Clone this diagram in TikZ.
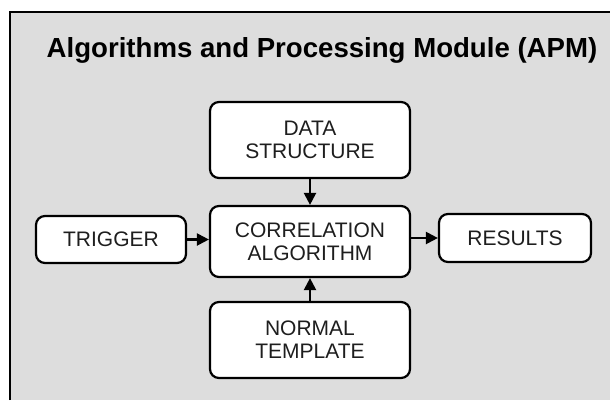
\documentclass[tikz,border=0pt]{standalone}
\usepackage{fontspec}
\setmainfont{Liberation Sans}
\usetikzlibrary{arrows.meta,positioning}
\definecolor{apmGray}{HTML}{DDDDDD}
\definecolor{apmText}{HTML}{1E1E1E}
\tikzset{
  blk/.style={draw=black, line width=2.2pt, rounded corners=9pt, fill=white,
              align=center, text=apmText, font=\fontsize{21}{23}\selectfont,
              inner sep=0pt, minimum width=#1},
  blk/.default=200pt,
  arr/.style={-{Triangle[length=12pt,width=12pt]}, line width=2.2pt},
}

\begin{document}
\begin{tikzpicture}[x=1pt,y=-1pt]
  \useasboundingbox (0,0) rectangle (610,400);
  % module frame
  \fill[apmGray] (10,12) rectangle (610,400);
  \draw[line width=2.4pt] (10,400) -- (10,12) -- (610,12);
  \node[font=\fontsize{27.6}{30}\selectfont\bfseries, anchor=base] (title) at (322,57)
    {Algorithms and Processing Module (APM)};
  % blocks
  \node[blk, minimum height=76pt] (data) at (310,140) {DATA\\STRUCTURE};
  \node[blk, minimum height=71pt] (corr) at (310,241.5) {CORRELATION\\ALGORITHM};
  \node[blk=150pt, minimum height=47pt] (trig) at (111,239.5) {TRIGGER};
  \node[blk=152pt, minimum height=48pt] (res) at (515,238) {RESULTS};
  \node[blk, minimum height=76pt] (norm) at (310,340) {NORMAL\\TEMPLATE};
  % connectors
  \draw[arr] (data) -- (corr);
  \draw[arr] (norm) -- (corr);
  \draw[arr] (trig.east) -- (trig.east -| corr.west);
  \draw[arr] (corr.east |- res.west) -- (res.west);
\end{tikzpicture}
\end{document}
